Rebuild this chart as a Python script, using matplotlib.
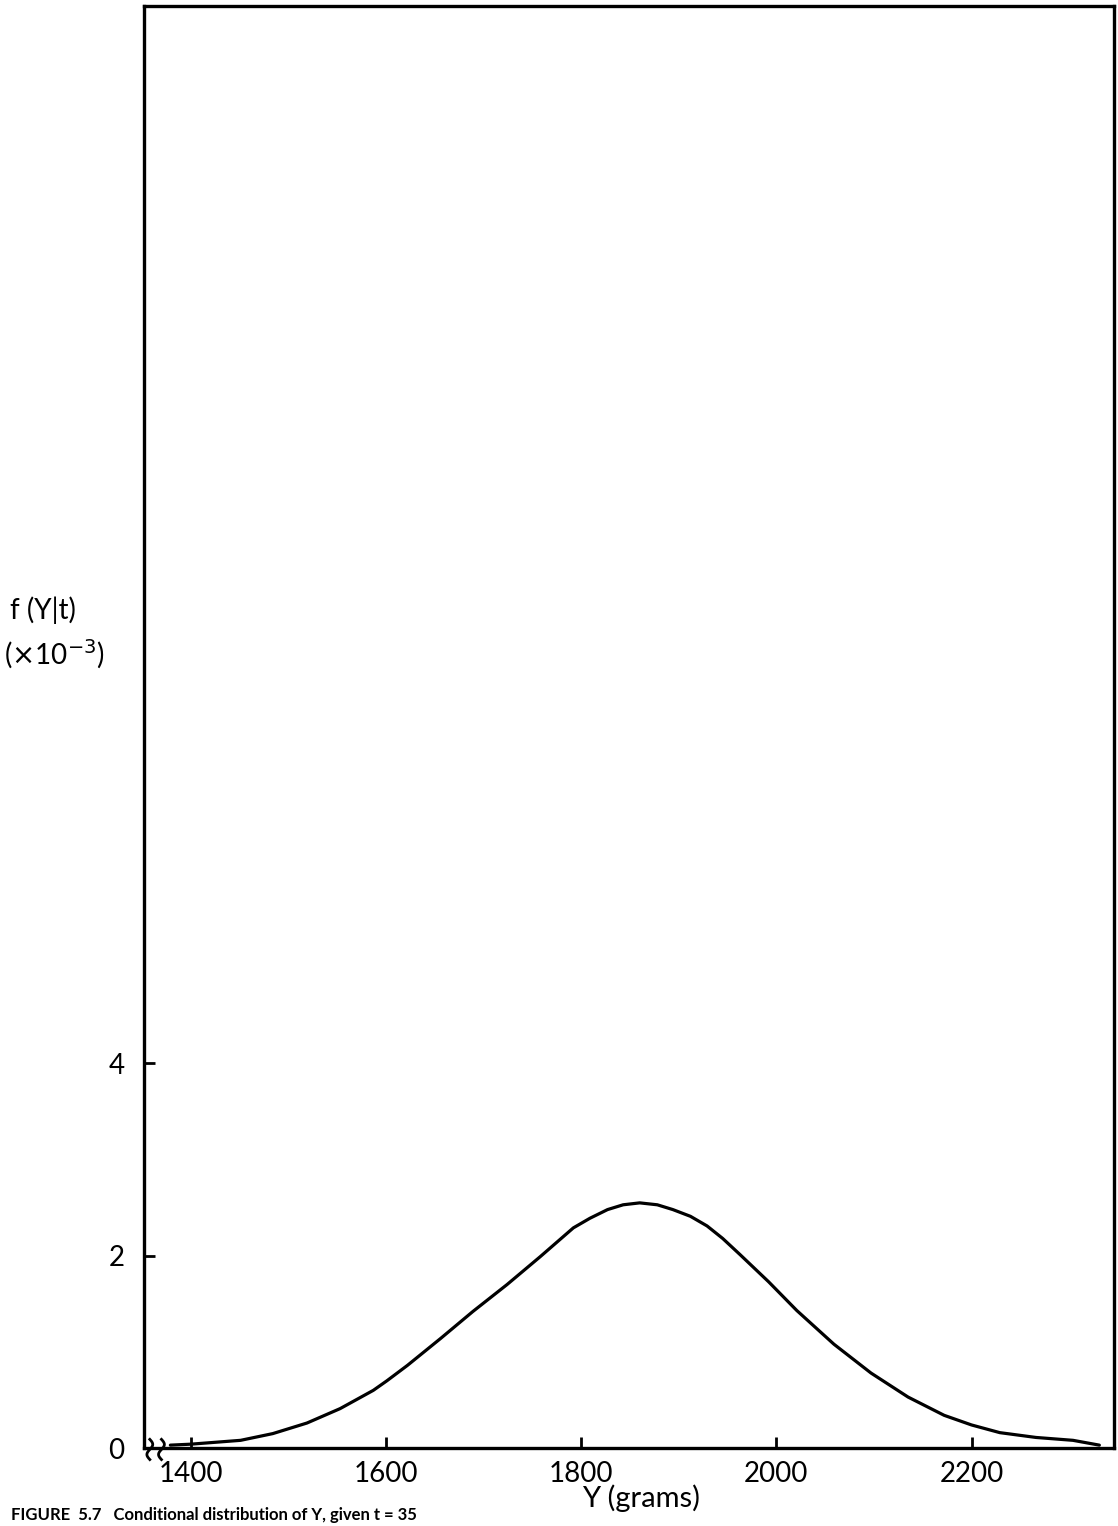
import matplotlib.pyplot as plt
import numpy as np

# curve: Y in grams, density in units of 1e-3
y_grams = [1379, 1400, 1451, 1484, 1519, 1553, 1587, 1601, 1622, 1656, 1689,
           1724, 1758, 1792, 1809, 1827, 1843, 1860, 1878, 1894, 1912, 1929,
           1945, 1963, 1992, 2021, 2059, 2097, 2135, 2172, 2200, 2229, 2266,
           2304, 2331]
density = [0.03, 0.04, 0.08, 0.15, 0.26, 0.41, 0.60, 0.70, 0.86, 1.14, 1.42,
           1.70, 1.99, 2.29, 2.39, 2.48, 2.53, 2.55, 2.53, 2.48, 2.41, 2.31,
           2.18, 2.01, 1.73, 1.43, 1.08, 0.78, 0.53, 0.34, 0.24, 0.16, 0.11,
           0.08, 0.03]

x_ticks = [1400, 1600, 1800, 2000, 2200]
y_ticks = [0, 2, 4]

plt.rcParams['font.family'] = ['Lato', 'DejaVu Sans']

fig = plt.figure(figsize=(11.18, 15.26), dpi=100)
ax = fig.add_axes([0.1288, 0.0511, 0.8676, 0.945])

ax.plot(y_grams, density, color='black', lw=2.3, solid_capstyle='round',
        solid_joinstyle='round')

ax.set_xlim(1352, 2346)
ax.set_ylim(0, 15)
ax.set_xticks(x_ticks)
ax.set_yticks(y_ticks)
ax.tick_params(axis='both', direction='in', length=8, width=2, labelsize=20,
               colors='black')
ax.tick_params(axis='x', pad=9)
ax.tick_params(axis='y', pad=14)
for s in ax.spines.values():
    s.set_linewidth(2.4)
    s.set_color('black')

# axis break marks on the x axis
tt = np.linspace(-1, 1, 40)
for x0 in (0.006, 0.018):
    ax.plot(x0 + 0.003 * np.sin(tt * np.pi), -0.001 + 0.007 * tt,
            transform=ax.transAxes, color='black', lw=2, clip_on=False)

fig.text(0.573, 0.0185, 'Y (grams)', ha='center', va='center', fontsize=21)
fig.text(0.009, 0.600, 'f (Y|t)', ha='left', va='center', fontsize=20)
fig.text(0.004, 0.571, r'($\times$10$^{-3}$)', ha='left', va='center', fontsize=20)

fig.text(0.010, 0.002, 'FIGURE  5.7   Conditional distribution of Y, given t = 35',
         ha='left', va='bottom', fontsize=12, fontweight='bold')

fig.savefig('out.png', dpi=100, facecolor='white')
